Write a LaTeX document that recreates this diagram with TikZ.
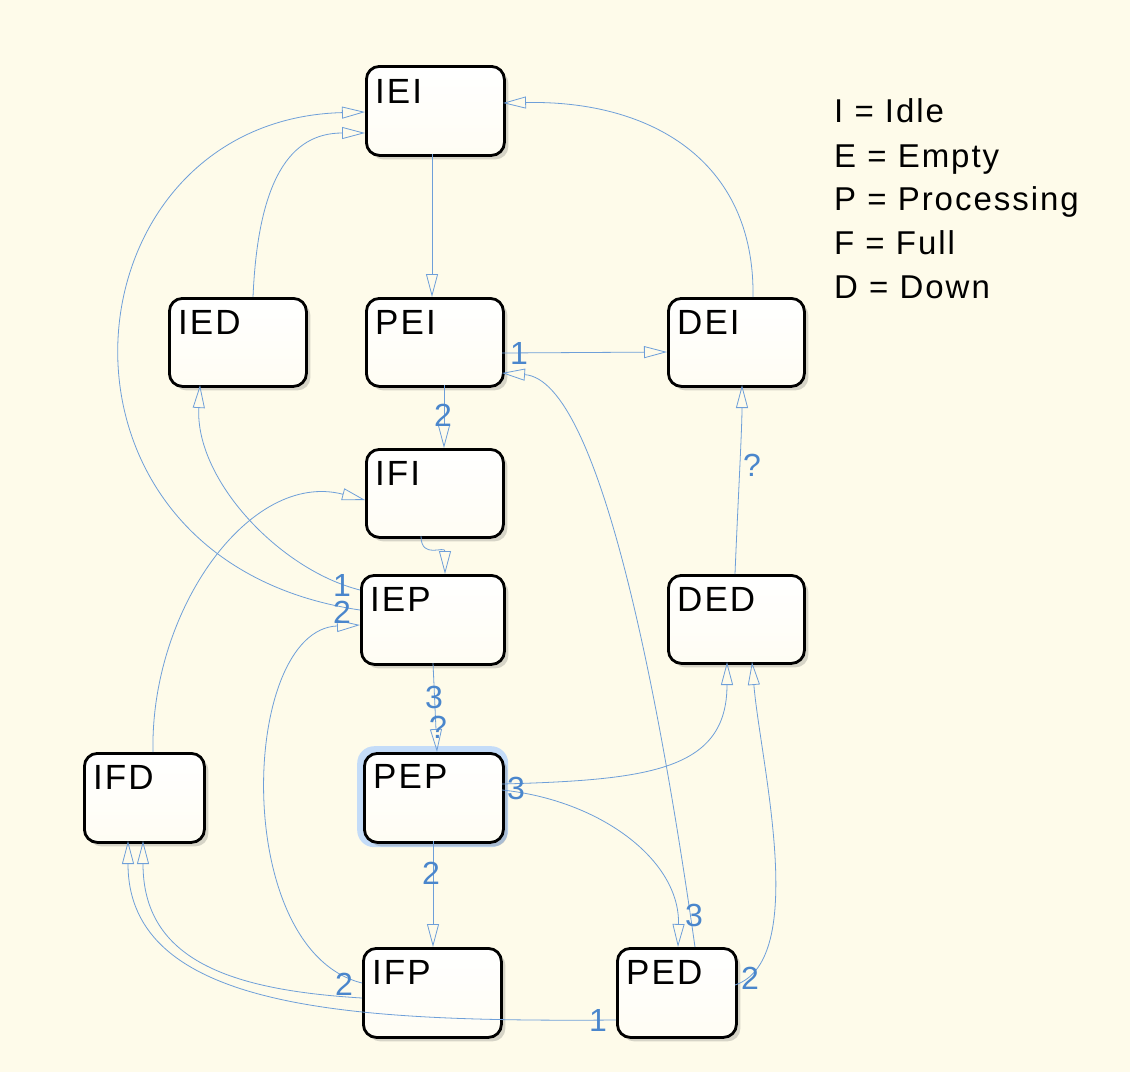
\documentclass[tikz,border=0pt]{standalone}
\usepackage{fontspec}
\setmainfont{Liberation Sans}
\newfontfamily\spacedfont[LetterSpace=6]{Liberation Sans}
\usetikzlibrary{arrows.meta,shadows,calc}
\definecolor{bg}{HTML}{FEFBEA}
\definecolor{edgec}{HTML}{6E9FD9}
\definecolor{lblc}{HTML}{4A86CC}
\definecolor{glowc}{HTML}{C4DCF8}
\begin{document}
\begin{tikzpicture}[x=1pt,y=-1pt,
  statebox/.style={draw=black, line width=2.8pt, rounded corners=13pt,
    top color=white, bottom color=bg!55!white, anchor=north west, inner sep=0pt,
    drop shadow={shadow xshift=4pt, shadow yshift=-4pt, opacity=0.22, fill=black!70}},
  glowbox/.style={fill=glowc, rounded corners=17pt, anchor=north west, inner sep=0pt},
  stxt/.style={anchor=base west, inner sep=0pt, font=\spacedfont\fontsize{35}{35}\selectfont},
  legtxt/.style={anchor=base west, inner sep=0pt, font=\spacedfont\fontsize{33}{33}\selectfont},
  lbl/.style={text=lblc, inner sep=0pt, font=\fontsize{32}{32}\selectfont},
  tr/.style={draw=edgec, line width=0.8pt, -{Triangle[open,length=23pt,width=12pt]}}]
\fill[bg] (0,0) rectangle (1130,1072);
\useasboundingbox (0,0) rectangle (1130,1072);
% states
\node[statebox, minimum width=138pt, minimum height=89pt] (IEI) at (365,65) {};
\node[statebox, minimum width=137pt, minimum height=88pt] (IED) at (168,297) {};
\node[statebox, minimum width=137pt, minimum height=88pt] (PEI) at (365,297) {};
\node[statebox, minimum width=136pt, minimum height=88pt] (DEI) at (667,297) {};
\node[statebox, minimum width=137pt, minimum height=88pt] (IFI) at (365,448) {};
\node[statebox, minimum width=143pt, minimum height=89pt] (IEP) at (360,574) {};
\node[statebox, minimum width=136pt, minimum height=88pt] (DED) at (667,574) {};
\node[statebox, minimum width=120pt, minimum height=89pt] (IFD) at (83,752) {};
\node[glowbox, minimum width=151pt, minimum height=101pt] (PEPg) at (357,746) {};
\node[statebox, minimum width=139pt, minimum height=89pt] (PEP) at (363,752) {};
\node[statebox, minimum width=138pt, minimum height=89pt] (IFP) at (362,947) {};
\node[statebox, minimum width=119pt, minimum height=89pt] (PED) at (616,947) {};
% state texts
\node[stxt] (IEIt) at ($(IEI.north west)+(10,38)$) {IEI};
\node[stxt] (IEDt) at ($(IED.north west)+(10,37)$) {IED};
\node[stxt] (PEIt) at ($(PEI.north west)+(10,37)$) {PEI};
\node[stxt] (DEIt) at ($(DEI.north west)+(10,37)$) {DEI};
\node[stxt] (IFIt) at ($(IFI.north west)+(10,37)$) {IFI};
\node[stxt] (IEPt) at ($(IEP.north west)+(10,37)$) {IEP};
\node[stxt] (DEDt) at ($(DED.north west)+(10,37)$) {DED};
\node[stxt] (IFDt) at ($(IFD.north west)+(10,37)$) {IFD};
\node[stxt] (PEPt) at ($(PEP.north west)+(10,36)$) {PEP};
\node[stxt] (IFPt) at ($(IFP.north west)+(10,37)$) {IFP};
\node[stxt] (PEDt) at ($(PED.north west)+(10,37)$) {PED};
% legend
\node[legtxt] (lg1) at (834,122) {I = Idle};
\node[legtxt] (lg2) at (834,167) {E = Empty};
\node[legtxt] (lg3) at (834,210) {P = Processing};
\node[legtxt] (lg4) at (834,254) {F = Full};
\node[legtxt] (lg5) at (834,298) {D = Down};
% transitions
\draw[tr] ($(IEI.north west)+(67,89)$) -- ($(PEI.north west)+(67,0)$);
\draw[tr] ($(IED.north west)+(85,0)$) .. controls (258,180) and (290,133) .. ($(IEI.north west)+(0,68)$);
\draw[tr] ($(IEP.north west)+(0,36)$) .. controls (20,560) and (60,120) .. ($(IEI.north west)+(0,47)$);
\draw[tr] ($(IEP.north west)+(0,16)$) .. controls (280,570) and (195,480) .. ($(IED.north west)+(32,88)$);
\draw[tr] ($(IFD.north west)+(70,0)$) .. controls (150,610) and (250,470) .. ($(IFI.north west)+(0,52)$);
\draw[tr] ($(IFI.north west)+(56,88)$) .. controls (421,560) and (445,545) .. ($(IEP.north west)+(85,0)$);
\draw[tr] ($(PEI.north west)+(79,88)$) -- ($(IFI.north west)+(79,0)$);
\draw[tr] ($(PEI.north west)+(137,56)$) -- ($(DEI.north west)+(0,55)$);
\draw[tr] ($(PED.north west)+(79,0)$) .. controls (660,700) and (600,380) .. ($(PEI.north west)+(137,76)$);
\draw[tr] ($(DEI.north west)+(86,0)$) .. controls (755,160) and (650,100) .. ($(IEI.north west)+(138,38)$);
\draw[tr] ($(DED.north west)+(68,0)$) .. controls (738,500) and (742,430) .. ($(DEI.north west)+(75,88)$);
\draw[tr] ($(IEP.north west)+(73,89)$) -- ($(PEP.north west)+(74,0)$);
\draw[tr] ($(PEP.north west)+(139,32)$) .. controls (650,780) and (727,770) .. ($(DED.north west)+(60,88)$);
\draw[tr] ($(PEP.north west)+(139,38)$) .. controls (600,800) and (680,860) .. ($(PED.north west)+(62,0)$);
\draw[tr] ($(PEP.north west)+(70,89)$) -- ($(IFP.north west)+(71,0)$);
\draw[tr] ($(PED.north west)+(119,38)$) .. controls (810,960) and (760,760) .. ($(DED.north west)+(85,88)$);
\draw[tr] ($(PED.north west)+(0,73)$) .. controls (350,1022) and (128,1010) .. ($(IFD.north west)+(45,89)$);
\draw[tr] ($(IFP.north west)+(0,51)$) .. controls (230,990) and (143,960) .. ($(IFD.north west)+(60,89)$);
\draw[tr] ($(IFP.north west)+(0,36)$) .. controls (230,950) and (240,630) .. ($(IEP.north west)+(0,51)$);
% transition labels
\node[lbl] (l1) at (342,585) {1};
\node[lbl] (l2) at (342,612) {2};
\node[lbl] (l3) at (443,415) {2};
\node[lbl] (l4) at (519,353) {1};
\node[lbl] (l5) at (694,915) {3};
\node[lbl] (l6) at (752,465) {?};
\node[lbl] (l7) at (434,697) {3};
\node[lbl] (l8) at (438,727) {?};
\node[lbl] (l9) at (516,788) {3};
\node[lbl] (l10) at (431,873) {2};
\node[lbl] (l11) at (750,978) {2};
\node[lbl] (l12) at (598,1020) {1};
\node[lbl] (l13) at (344,984) {2};
\end{tikzpicture}
\end{document}
